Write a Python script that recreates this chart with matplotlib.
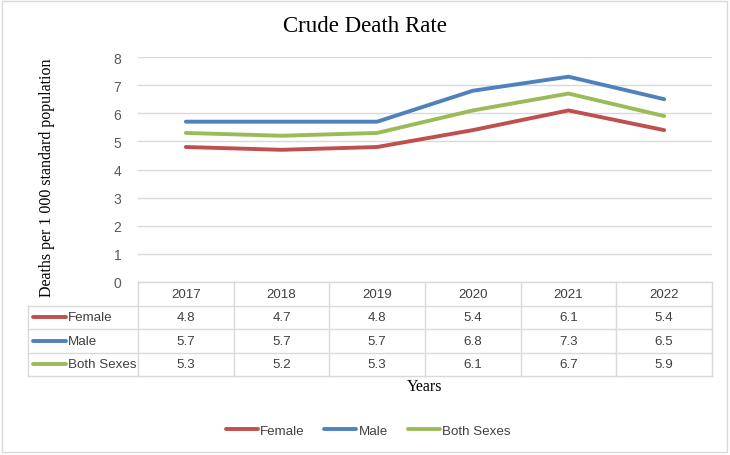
import numpy as np
import matplotlib
matplotlib.use("Agg")
import matplotlib.pyplot as plt
from matplotlib.patches import Rectangle

years = ["2017", "2018", "2019", "2020", "2021", "2022"]
female = [4.8, 4.7, 4.8, 5.4, 6.1, 5.4]
male = [5.7, 5.7, 5.7, 6.8, 7.3, 6.5]
both = [5.3, 5.2, 5.3, 6.1, 6.7, 5.9]
series_names = ["Female", "Male", "Both Sexes"]
series_colors = ["#C0504D", "#4F81BD", "#9BBB59"]
yticks = [0, 1, 2, 3, 4, 5, 6, 7, 8]

W, H = 730, 456
grid_c = "#D9D9D9"
txt_c = "#404040"
sans = "Liberation Sans"
serif = "Liberation Serif"


def fx(px):
    return px / W


def fy(py):
    return 1 - py / H


fig = plt.figure(figsize=(W / 100, H / 100), dpi=100)
fig.patches.append(Rectangle((fx(2), fy(453)), fx(725), 451 / H, transform=fig.transFigure,
                             fill=False, edgecolor="#D9D9D9", lw=1))

# plot area
x0, x1, ytop, ybot = 138, 712, 58, 283
ax = fig.add_axes([fx(x0), fy(ybot), fx(x1 - x0), (ybot - ytop) / H])
ax.set_xlim(-0.5, len(years) - 0.5)
ax.set_ylim(0, 8)
ax.set_yticks(yticks)
ax.set_yticklabels([str(v) for v in yticks], fontsize=10, color="#595959", family=sans)
ax.tick_params(axis="y", length=0, pad=12)
ax.set_xticks([])
for s in ax.spines.values():
    s.set_visible(False)
ax.grid(axis="y", color=grid_c, lw=1)
ax.set_axisbelow(True)

xs = np.arange(len(years))
for vals, col in zip([female, male, both], series_colors):
    ax.plot(xs, vals, color=col, lw=2.8, solid_capstyle="round", solid_joinstyle="round")

# data table
row_h = 23.5
tab = fig.add_axes([fx(x0), fy(ybot + 4 * row_h), fx(x1 - x0), 4 * row_h / H])
tab.set_xlim(-0.5, len(years) - 0.5)
tab.set_ylim(4, 0)
tab.axis("off")
unit = (x1 - x0) / len(years)
left = -0.5 - (x0 - 28) / unit

tab.plot([-0.5, len(years) - 0.5], [0, 0], color=grid_c, lw=1, clip_on=False)
for r in range(1, 5):
    tab.plot([left, len(years) - 0.5], [r, r], color=grid_c, lw=1, clip_on=False)
for c in range(len(years) + 1):
    tab.plot([c - 0.5, c - 0.5], [0, 4], color=grid_c, lw=1, clip_on=False)
tab.plot([left, left], [1, 4], color=grid_c, lw=1, clip_on=False)

fs = 9.6
for i, y in enumerate(years):
    tab.text(i, 0.5, y, ha="center", va="center", fontsize=fs, color=txt_c, family=sans)
for r, (name, vals, col) in enumerate(zip(series_names, [female, male, both], series_colors)):
    yy = r + 1.5
    tab.plot([left + 5 / unit, left + 38 / unit], [yy, yy], color=col, lw=2.8,
             solid_capstyle="round", clip_on=False)
    tab.text(left + 40 / unit, yy, name, ha="left", va="center", fontsize=fs,
             color=txt_c, family=sans)
    for i, v in enumerate(vals):
        tab.text(i, yy, f"{v}", ha="center", va="center", fontsize=fs, color=txt_c, family=sans)

fig.text(fx(365), fy(26), "Crude Death Rate", ha="center", va="center", fontsize=16.5,
         family=serif, color="black")
fig.text(fx(47), fy(178), "Deaths per 1 000 standard population", ha="center", va="center",
         rotation=90, fontsize=11.5, family=serif, color="black")
fig.text(fx(425), fy(387), "Years", ha="center", va="center", fontsize=11.5,
         family=serif, color="black")

# legend
handles = [plt.Line2D([], [], color=c, lw=2.8, solid_capstyle="round") for c in series_colors]
leg = fig.legend(handles, series_names, loc="center", bbox_to_anchor=(fx(368), fy(432)),
                 ncol=3, frameon=False, handlelength=2.4, handletextpad=0.15,
                 columnspacing=1.5, prop={"family": sans, "size": 9.6})
for t in leg.get_texts():
    t.set_color(txt_c)

fig.savefig("out.png", dpi=100)
